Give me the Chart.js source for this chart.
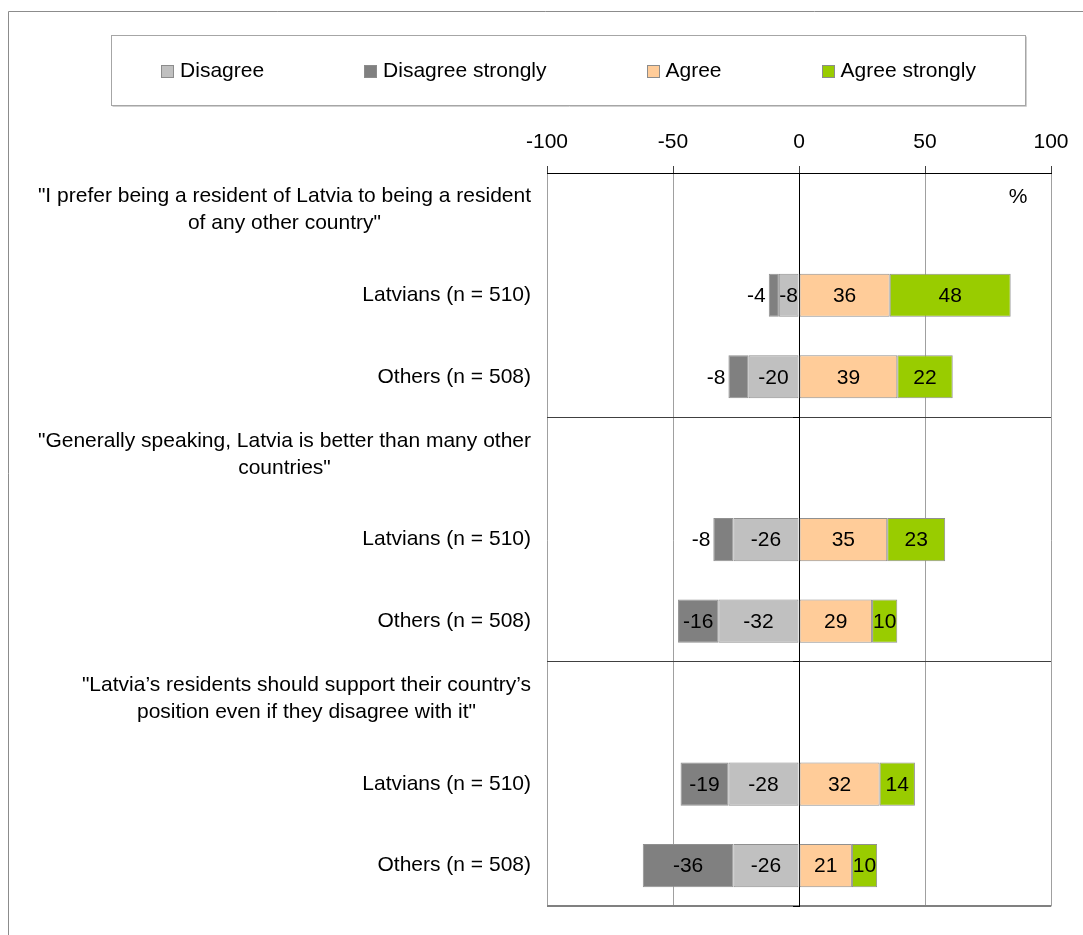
<!DOCTYPE html>
<html>
<head>
<meta charset="utf-8">
<script src="https://cdn.jsdelivr.net/npm/chart.js@4.4.1/dist/chart.umd.min.js"></script>
<style>
  html, body { margin: 0; padding: 0; background: #fff; overflow: hidden; }
  canvas { display: block; }
</style>
</head>
<body>
<canvas id="attitudes" width="1083" height="935"></canvas>
<script>
const questions = [
  ['"I prefer being a resident of Latvia to being a resident', 'of any other country"'],
  ['"Generally speaking, Latvia is better than many other', 'countries"'],
  ['"Latvia\u2019s residents should support their country\u2019s', 'position even if they disagree with it"']
];
const groups = ['Latvians (n = 510)', 'Others (n = 508)'];

// one heading row per question, then one row per group (null = no bar)
const disagree         = [null,  -8, -20, null, -26, -32, null, -28, -26];
const disagreeStrongly = [null,  -4,  -8, null,  -8, -16, null, -19, -36];
const agree            = [null,  36,  39, null,  35,  29, null,  32,  21];
const agreeStrongly    = [null,  48,  22, null,  23,  10, null,  14,  10];

const xTicks = [-100, -50, 0, 50, 100];

const FONT = '"Liberation Sans", Arial, sans-serif';
const FONT_SIZE = 21;
const LABEL_GAP = 16;

const rows = questions.flatMap(q => [q.join(' '), ...groups]);
const headingRows = questions.map((q, i) => i * (groups.length + 1));

Chart.defaults.font.family = FONT;
Chart.defaults.font.size = FONT_SIZE;
Chart.defaults.color = '#000';

// outer frame and the boxed legend above the plot
const frameAndLegend = {
  id: 'frameAndLegend',
  beforeDraw(chart) {
    const { ctx } = chart;
    ctx.save();
    ctx.strokeStyle = '#8c8c8c';
    ctx.lineWidth = 1;
    ctx.beginPath();
    ctx.moveTo(8.5, chart.height);
    ctx.lineTo(8.5, 11.5);
    ctx.lineTo(chart.width, 11.5);
    ctx.stroke();

    const box = { x: 111.5, y: 35.5, w: 914, h: 70 };
    ctx.fillStyle = '#fff';
    ctx.fillRect(box.x, box.y, box.w, box.h);
    ctx.strokeStyle = '#a6a6a6';
    ctx.strokeRect(box.x, box.y, box.w, box.h);
    ctx.strokeStyle = '#d0d0d0';
    ctx.beginPath();
    ctx.moveTo(box.x + 1, box.y + box.h + 1);
    ctx.lineTo(box.x + box.w + 1, box.y + box.h + 1);
    ctx.lineTo(box.x + box.w + 1, box.y + 1);
    ctx.stroke();

    ctx.font = `${FONT_SIZE}px ${FONT}`;
    ctx.textBaseline = 'middle';
    ctx.textAlign = 'left';
    const sq = 13, textGap = 6, itemGap = 100;
    const items = chart.data.datasets.map(ds => ({
      text: ds.label,
      color: ds.backgroundColor,
      w: sq + textGap + ctx.measureText(ds.label).width
    }));
    const total = items.reduce((s, it) => s + it.w, 0) + itemGap * (items.length - 1);
    let x = box.x + (box.w - total) / 2;
    const cy = box.y + box.h / 2 + 1;
    items.forEach(it => {
      ctx.fillStyle = it.color;
      ctx.fillRect(Math.round(x), Math.round(cy - 7), sq, sq);
      ctx.strokeStyle = '#8c8c8c';
      ctx.strokeRect(Math.round(x) + 0.5, Math.round(cy - 7) + 0.5, sq - 1, sq - 1);
      ctx.fillStyle = '#000';
      ctx.fillText(it.text, x + sq + textGap, cy);
      x += it.w + itemGap;
    });
    ctx.restore();
  }
};

// value written on each bar segment; a too-narrow outer negative segment gets it on its left
const valueLabels = {
  id: 'valueLabels',
  afterDatasetsDraw(chart) {
    const { ctx } = chart;
    const sets = chart.data.datasets;
    ctx.save();
    ctx.font = `${FONT_SIZE}px ${FONT}`;
    ctx.fillStyle = '#000';
    ctx.textBaseline = 'middle';
    sets.forEach((ds, i) => {
      chart.getDatasetMeta(i).data.forEach((bar, j) => {
        const v = ds.data[j];
        if (v == null) return;
        const { x, y, base } = bar.getProps(['x', 'y', 'base'], true);
        const text = String(v);
        const w = Math.abs(x - base);
        const tw = ctx.measureText(text).width;
        const outermost = v < 0 && sets.slice(i + 1).every(d => !(d.data[j] < 0));
        if (outermost && tw + 6 > w) {
          ctx.textAlign = 'right';
          ctx.fillText(text, Math.min(x, base) - 3, y + 1);
        } else {
          ctx.textAlign = 'center';
          ctx.fillText(text, (x + base) / 2, y + 1);
        }
      });
    });
    ctx.restore();
  }
};

// question wording: centred lines, block right-aligned with the group labels
const questionHeadings = {
  id: 'questionHeadings',
  afterDraw(chart) {
    const { ctx, chartArea } = chart;
    const yScale = chart.scales.y;
    ctx.save();
    ctx.font = `${FONT_SIZE}px ${FONT}`;
    ctx.fillStyle = '#000';
    ctx.textAlign = 'center';
    ctx.textBaseline = 'middle';
    const right = chartArea.left - LABEL_GAP;
    headingRows.forEach((row, q) => {
      const lines = questions[q];
      const widest = Math.max(...lines.map(l => ctx.measureText(l).width));
      const cx = right - widest / 2;
      const cy = yScale.getPixelForTick(row) - 4;
      lines.forEach((line, k) => {
        ctx.fillText(line, cx, cy + (k - (lines.length - 1) / 2) * 27);
      });
    });
    ctx.fillText('%', chartArea.right - 33, chartArea.top + 24);
    ctx.restore();
  }
};

const groupGrid = (c, on, off) => (c.index === undefined || (c.index % 3 === 0 && c.index > 0)) ? on : off;

const ctx = document.getElementById('attitudes').getContext('2d');
new Chart(ctx, {
  type: 'bar',
  data: {
    labels: rows,
    datasets: [
      { label: 'Disagree', data: disagree, backgroundColor: '#c0c0c0' },
      { label: 'Disagree strongly', data: disagreeStrongly, backgroundColor: '#808080' },
      { label: 'Agree', data: agree, backgroundColor: '#ffcc99' },
      { label: 'Agree strongly', data: agreeStrongly, backgroundColor: '#99cc00' }
    ].map(ds => Object.assign(ds, {
      xAxisID: 'x',
      yAxisID: 'y',
      borderColor: '#909090',
      borderWidth: 1,
      borderSkipped: false,
      barPercentage: 0.53,
      categoryPercentage: 1
    }))
  },
  options: {
    indexAxis: 'y',
    responsive: false,
    animation: false,
    devicePixelRatio: 1,
    layout: { autoPadding: false, padding: { top: 113, right: 32, bottom: 25, left: 0 } },
    plugins: {
      legend: { display: false },
      tooltip: { enabled: false }
    },
    scales: {
      x: {
        position: 'top',
        stacked: true,
        min: xTicks[0],
        max: xTicks[xTicks.length - 1],
        ticks: { stepSize: xTicks[1] - xTicks[0], padding: 11, color: '#000' },
        grid: {
          color: c => (c.tick && c.tick.value === 0) ? '#000' : '#a0a0a0',
          tickColor: '#404040',
          tickLength: 7
        },
        border: { color: '#000', width: 1 },
        afterFit: scale => { scale.height = 60; }
      },
      y: {
        stacked: true,
        offset: true,
        ticks: {
          padding: LABEL_GAP,
          color: '#000',
          autoSkip: false,
          callback(value, index) {
            return headingRows.includes(index) ? '' : this.getLabelForValue(value);
          }
        },
        grid: {
          offset: true,
          drawTicks: false,
          color: c => groupGrid(c, c.index === undefined ? '#808080' : '#404040', 'rgba(0,0,0,0)'),
          lineWidth: c => c.index === undefined ? 2 : 1
        },
        border: { display: false },
        afterFit: scale => { scale.width = 547; }
      },
      // category axis crossing at zero, drawn over the bars
      y2: {
        type: 'category',
        position: { x: 0 },
        offset: true,
        z: 1,
        ticks: { display: false },
        grid: {
          offset: true,
          drawOnChartArea: false,
          tickLength: 6,
          tickColor: c => groupGrid(c, '#000', 'rgba(0,0,0,0)')
        },
        border: { color: '#000', width: 1 }
      }
    }
  },
  plugins: [frameAndLegend, valueLabels, questionHeadings]
});
</script>
</body>
</html>
